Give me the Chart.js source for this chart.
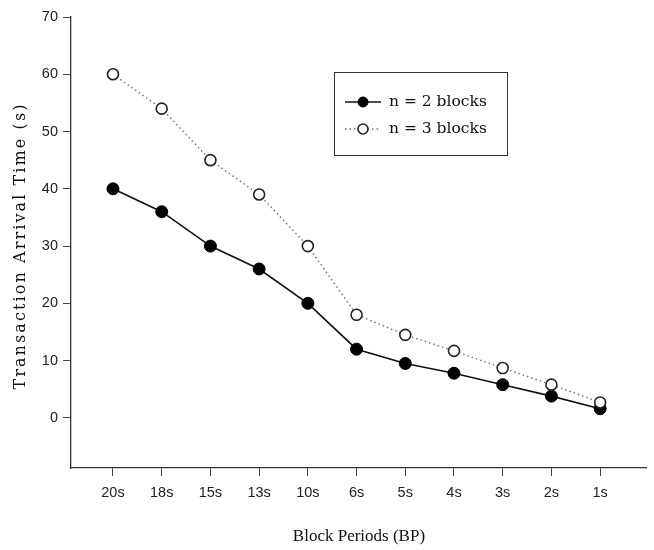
<!DOCTYPE html>
<html>
<head>
<meta charset="utf-8">
<script src="https://cdn.jsdelivr.net/npm/chart.js@4"></script>
<style>
  body { margin: 0; background: #fff; }
  canvas { display: block; }
</style>
</head>
<body>
<canvas id="myChart" width="654" height="550"></canvas>
<script>
const categories = ['20s', '18s', '15s', '13s', '10s', '6s', '5s', '4s', '3s', '2s', '1s'];
const twoBlocks = [40, 36, 30, 26, 20, 12, 9.5, 7.8, 5.8, 3.8, 1.6];
const threeBlocks = [60, 54, 45, 39, 30, 18, 14.5, 11.7, 8.7, 5.8, 2.7];
const yTicks = [0, 10, 20, 30, 40, 50, 60, 70];
const seriesNames = ['n = 2 blocks', 'n = 3 blocks'];

function toPoints(values) {
  return values.map((v, i) => ({ x: i, y: v }));
}

// legend in a box inside the plot, like the original
const boxLegend = {
  id: 'boxLegend',
  afterDraw(chart) {
    const ctx = chart.ctx;
    ctx.save();
    ctx.fillStyle = '#fff';
    ctx.fillRect(334, 72, 173, 83);
    ctx.strokeStyle = '#333';
    ctx.lineWidth = 1;
    ctx.strokeRect(334.5, 72.5, 173, 83);
    const rows = [102, 129];
    chart.data.datasets.forEach((ds, i) => {
      const y = rows[i];
      ctx.beginPath();
      ctx.strokeStyle = ds.borderColor;
      ctx.lineWidth = ds.borderWidth;
      ctx.setLineDash(ds.borderDash || []);
      ctx.moveTo(345, y);
      ctx.lineTo(381, y);
      ctx.stroke();
      ctx.setLineDash([]);
      ctx.beginPath();
      ctx.arc(363, y, 5, 0, Math.PI * 2);
      ctx.fillStyle = ds.pointBackgroundColor;
      ctx.fill();
      ctx.lineWidth = ds.pointBorderWidth;
      ctx.strokeStyle = ds.pointBorderColor;
      ctx.stroke();
      ctx.fillStyle = '#111';
      ctx.font = '15.5px "DejaVu Serif"';
      ctx.textBaseline = 'middle';
      ctx.textAlign = 'left';
      ctx.fillText(ds.label, 389, y);
    });
    ctx.restore();
  }
};

// y title is spaced out in the original, chart.js can't do letter spacing
const yTitle = {
  id: 'yTitle',
  afterDraw(chart) {
    const ctx = chart.ctx;
    ctx.save();
    ctx.translate(21, 246);
    ctx.rotate(-Math.PI / 2);
    ctx.font = '16px "DejaVu Serif"';
    ctx.letterSpacing = '2.1px';
    ctx.fillStyle = '#111';
    ctx.textAlign = 'center';
    ctx.textBaseline = 'middle';
    ctx.fillText('Transaction Arrival Time (s)', 0, 0);
    ctx.restore();
  }
};

function initChart(targetElement) {
  const data = {
    datasets: [
      {
        label: seriesNames[0],
        data: toPoints(twoBlocks),
        borderColor: '#111',
        borderWidth: 1.6,
        pointRadius: 6,
        pointBackgroundColor: '#000',
        pointBorderColor: '#000',
        pointBorderWidth: 1,
        order: 1
      },
      {
        label: seriesNames[1],
        data: toPoints(threeBlocks),
        borderColor: '#777',
        borderWidth: 1.5,
        borderDash: [1.5, 3],
        pointRadius: 5.5,
        pointBackgroundColor: '#fff',
        pointBorderColor: '#222',
        pointBorderWidth: 1.6,
        order: 0
      }
    ]
  };

  const config = {
    type: 'line',
    data: data,
    options: {
      responsive: false,
      animation: false,
      devicePixelRatio: 1,
      layout: { padding: { top: 17, right: 0, left: 0, bottom: 0 } },
      plugins: {
        legend: { display: false },
        tooltip: { enabled: false }
      },
      scales: {
        x: {
          type: 'linear',
          min: -0.862,
          max: 10.96,
          afterBuildTicks: (scale) => {
            scale.ticks = categories.map((c, i) => ({ value: i }));
          },
          afterFit: (scale) => { scale.height = 82; },
          ticks: {
            callback: (v) => categories[v],
            font: { family: '"Liberation Sans"', size: 14.5 },
            color: '#222',
            padding: 8,
            maxRotation: 0
          },
          grid: { drawOnChartArea: false, tickLength: 8, color: '#444' },
          border: { color: '#333', width: 1.3 },
          title: {
            display: true,
            text: 'Block Periods (BP)',
            font: { family: '"Liberation Serif"', size: 17 },
            color: '#111',
            padding: { top: 0, bottom: 3 }
          }
        },
        y: {
          min: -8.75,
          max: 70,
          afterBuildTicks: (scale) => {
            scale.ticks = yTicks.map((v) => ({ value: v }));
          },
          afterFit: (scale) => { scale.width = 71; },
          ticks: {
            font: { family: '"Liberation Sans"', size: 14.5 },
            color: '#222',
            padding: 5
          },
          grid: { drawOnChartArea: false, tickLength: 8, color: '#444' },
          border: { color: '#333', width: 1.3 }
        }
      }
    },
    plugins: [boxLegend, yTitle]
  };

  return new Chart(targetElement, config);
}

document.addEventListener('DOMContentLoaded', () => {
  initChart(document.querySelector('#myChart'));
});
</script>
</body>
</html>
